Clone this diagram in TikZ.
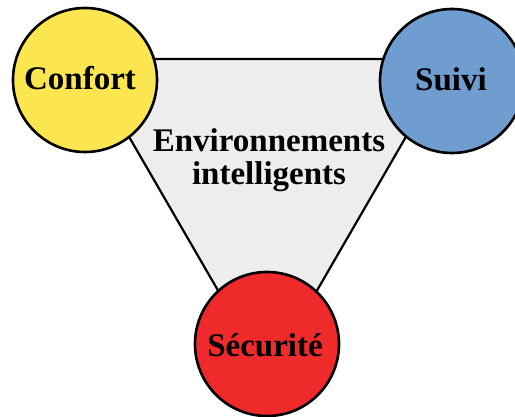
\documentclass[tikz,border=0pt]{standalone}
\usepackage{fontspec}
\setmainfont{Liberation Serif}
\definecolor{cyellow}{RGB}{252,230,80}
\definecolor{cblue}{RGB}{112,157,207}
\definecolor{cred}{RGB}{238,42,42}
\definecolor{cgray}{RGB}{237,237,237}
\tikzset{
  bubble/.style={circle, draw=black, line width=2.6pt, minimum size=144pt, inner sep=0pt},
  lbl/.style={font=\fontsize{33}{33}\selectfont\bfseries, anchor=base, inner sep=0pt},
  tri/.style={draw=black, fill=cgray, line width=2.2pt, line join=miter}
}
\begin{document}
\begin{tikzpicture}[x=1pt,y=-1pt]
\clip (0,0) rectangle (515,417);
\fill[white] (0,0) rectangle (515,417);
\coordinate (t1) at (84,59);
\coordinate (t2) at (451,59);
\coordinate (t3) at (267.5,376);
\path[tri] (t1) -- (t2) -- (t3) -- cycle;
\node[bubble, fill=cyellow] (confort) at (85,80) {};
\node[bubble, fill=cblue] (suivi) at (452,81) {};
\node[bubble, fill=cred] (securite) at (267,344) {};
\node[lbl] (lconfort) at (80,90) {Confort};
\node[lbl] (lsuivi) at (451,91) {Suivi};
\node[lbl] (lsecurite) at (265,356) {Sécurité};
\node[lbl] (env1) at (269,152) {Environnements};
\node[lbl] (env2) at (269,185) {intelligents};
\end{tikzpicture}
\end{document}
